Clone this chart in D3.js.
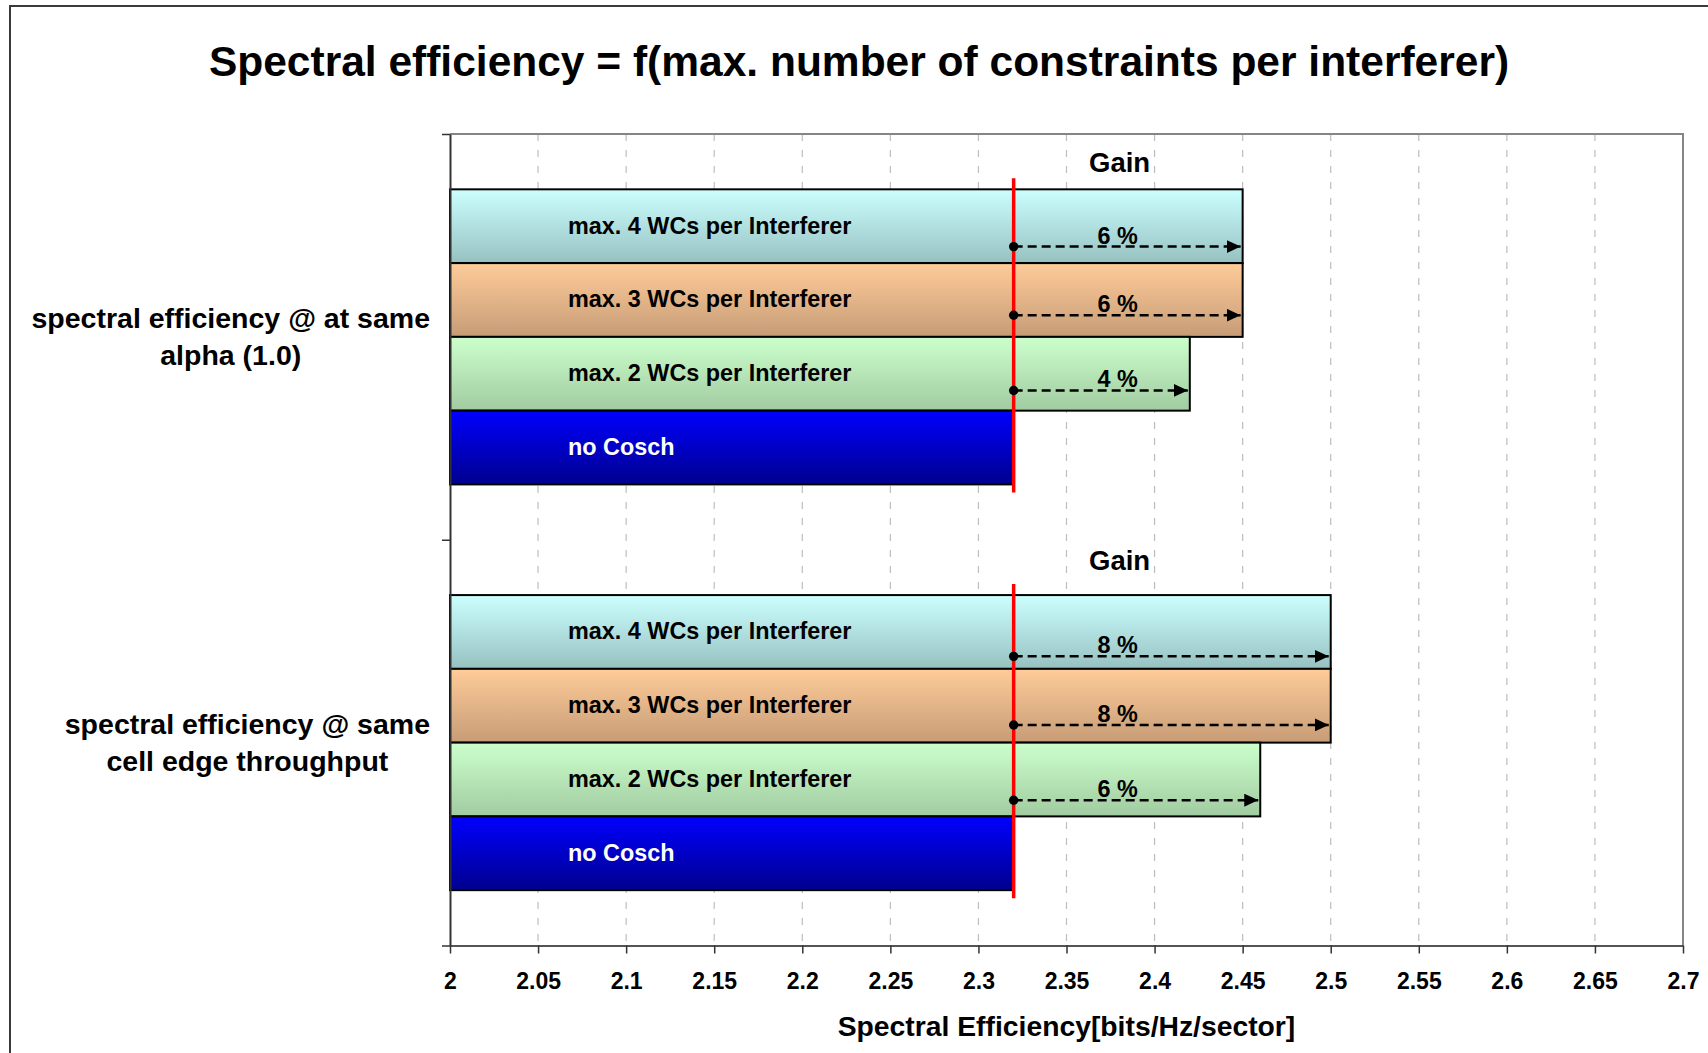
<!DOCTYPE html>
<html>
<head>
<meta charset="utf-8">
<script src="https://cdn.jsdelivr.net/npm/d3@7"></script>
<style>
  body { margin: 0; background: #fff; }
  svg { display: block; }
  text { font-family: "Liberation Sans", Arial, sans-serif; font-weight: bold; }
</style>
</head>
<body>
<svg id="chart" width="1708" height="1053"></svg>
<script>
// ---- data ----
const categories = ["spectral efficiency @ at same alpha (1.0)", "spectral efficiency @ same cell edge throughput"];
const categoryLines = [["spectral efficiency @ at same", "alpha (1.0)"], ["spectral efficiency @ same", "cell edge throughput"]];
const seriesNames = ["max. 4 WCs per Interferer", "max. 3 WCs per Interferer", "max. 2 WCs per Interferer", "no Cosch"];
const max4WCs = [2.45, 2.50];
const max3WCs = [2.45, 2.50];
const max2WCs = [2.42, 2.46];
const noCosch = [2.32, 2.32];
const xTickValues = [2, 2.05, 2.1, 2.15, 2.2, 2.25, 2.3, 2.35, 2.4, 2.45, 2.5, 2.55, 2.6, 2.65, 2.7];
const xTickLabels = ["2", "2.05", "2.1", "2.15", "2.2", "2.25", "2.3", "2.35", "2.4", "2.45", "2.5", "2.55", "2.6", "2.65", "2.7"];
const titleText = "Spectral efficiency = f(max. number of constraints per interferer)";
const xAxisTitle = "Spectral Efficiency[bits/Hz/sector]";
const gainTitle = "Gain";
const gainLabelValue = 2.379;   // x position (in axis units) of the gain percentages

const seriesValues = [max4WCs, max3WCs, max2WCs, noCosch];

// ---- styles ----
const gradients = [
  ["#CCFFFF", "#97C1C1"],
  ["#FFCC99", "#C69C77"],
  ["#CCFFCC", "#A1CBA1"],
  ["#0000FF", "#00008E"]
];
const labelColors = ["#000", "#000", "#000", "#fff"];

// ---- layout ----
const plot = { left: 450, right: 1683, top: 134, bottom: 945.5 };
const svg = d3.select("#chart");

const x = d3.scaleLinear().domain([2, 2.7]).range([plot.left, plot.right]);
const y0 = d3.scaleBand().domain(categories).range([plot.top, plot.bottom]);
const y1 = d3.scaleBand().domain(seriesNames).range([0, y0.bandwidth()])
  .paddingInner(0).paddingOuter(0.75);
const bh = y1.bandwidth();

// gradients
const defs = svg.append("defs");
gradients.forEach((g, i) => {
  const lg = defs.append("linearGradient").attr("id", "grad" + i)
    .attr("x1", 0).attr("y1", 0).attr("x2", 0).attr("y2", 1);
  lg.append("stop").attr("offset", "0%").attr("stop-color", g[0]);
  lg.append("stop").attr("offset", "100%").attr("stop-color", g[1]);
});
defs.append("marker").attr("id", "arrowhead")
  .attr("markerUnits", "userSpaceOnUse")
  .attr("viewBox", "0 0 14 13").attr("refX", 14).attr("refY", 6.5)
  .attr("markerWidth", 14).attr("markerHeight", 13).attr("orient", "auto")
  .append("path").attr("d", "M0,0 L14,6.5 L0,13 Z").attr("fill", "#000");

// background + frame
svg.append("rect").attr("width", 1708).attr("height", 1053).attr("fill", "#fff");
svg.append("rect").attr("x", 10).attr("y", 6).attr("width", 1730).attr("height", 1080)
  .attr("fill", "#fff").attr("stroke", "#3a3a3a").attr("stroke-width", 2);

// title
svg.append("text").attr("x", 859).attr("y", 76).attr("text-anchor", "middle")
  .attr("font-size", 42.5).text(titleText);

// vertical gridlines
svg.append("g").selectAll("line")
  .data(xTickValues.filter(d => d > 2 && d < 2.7))
  .join("line")
  .attr("x1", d => x(d)).attr("x2", d => x(d))
  .attr("y1", plot.top).attr("y2", plot.bottom)
  .attr("stroke", "#BEBEBE").attr("stroke-width", 1.2)
  .attr("stroke-dasharray", "7,9");

// plot frame (top and right)
svg.append("path")
  .attr("d", `M${plot.left},${plot.top}H${plot.right}V${plot.bottom}`)
  .attr("fill", "none").attr("stroke", "#858585").attr("stroke-width", 2);

// bars
const gBars = svg.append("g");
categories.forEach((c, ci) => {
  seriesNames.forEach((s, si) => {
    const v = seriesValues[si][ci];
    gBars.append("rect")
      .attr("x", x(2)).attr("y", y0(c) + y1(s))
      .attr("width", x(v) - x(2)).attr("height", bh)
      .attr("fill", `url(#grad${si})`)
      .attr("stroke", "#000").attr("stroke-width", 2);
  });
});

// bar labels
categories.forEach((c, ci) => {
  seriesNames.forEach((s, si) => {
    svg.append("text")
      .attr("x", plot.left + 118)
      .attr("y", y0(c) + y1(s) + bh / 2 + 7.5)
      .attr("font-size", 23.4).attr("fill", labelColors[si])
      .text(s);
  });
});

// reference line at the no-Cosch value
categories.forEach((c, ci) => {
  const top = y0(c) + y1(seriesNames[0]);
  const bottom = y0(c) + y1(seriesNames[3]) + bh;
  svg.append("line")
    .attr("x1", x(noCosch[ci])).attr("x2", x(noCosch[ci]))
    .attr("y1", top - 11).attr("y2", bottom + 8)
    .attr("stroke", "#FF0000").attr("stroke-width", 3.5);
});

// gain arrows and percentages
const arrowFrac = [0.79, 0.72, 0.74];
const arrowShift = [-1, 3];
const gainDy = [-17, -25];
categories.forEach((c, ci) => {
  const base = noCosch[ci];
  svg.append("text")
    .attr("x", x(gainLabelValue) + 2)
    .attr("y", y0(c) + y1(seriesNames[0]) + gainDy[ci])
    .attr("text-anchor", "middle").attr("font-size", 27.5)
    .text(gainTitle);
  seriesNames.slice(0, 3).forEach((s, si) => {
    const v = seriesValues[si][ci];
    const ay = y0(c) + y1(s) + bh * arrowFrac[si] + arrowShift[ci];
    svg.append("line")
      .attr("x1", x(base)).attr("x2", x(v) - 2)
      .attr("y1", ay).attr("y2", ay)
      .attr("stroke", "#000").attr("stroke-width", 2.5)
      .attr("stroke-dasharray", "9,5")
      .attr("marker-end", "url(#arrowhead)");
    svg.append("circle").attr("cx", x(base)).attr("cy", ay).attr("r", 4.7).attr("fill", "#000");
    const pct = Math.round((v / base - 1) * 100);
    svg.append("text")
      .attr("x", x(gainLabelValue)).attr("y", ay - 3)
      .attr("text-anchor", "middle").attr("font-size", 23.4)
      .text(pct + " %");
  });
});

// x axis
const xAxis = svg.append("g").attr("transform", `translate(0,${plot.bottom})`)
  .call(d3.axisBottom(x).tickValues(xTickValues)
    .tickFormat((d, i) => xTickLabels[i]).tickSize(8).tickSizeOuter(0));
xAxis.select(".domain").attr("stroke", "#555").attr("stroke-width", 2);
xAxis.selectAll(".tick line").attr("stroke", "#333").attr("stroke-width", 1.5);
xAxis.selectAll(".tick text")
  .attr("y", 43.5).attr("dy", null)
  .attr("font-size", 23).attr("font-family", null).attr("fill", "#000");

// category axis: ticks on band boundaries
const yTickScale = d3.scaleLinear().domain([0, categories.length]).range([plot.top, plot.bottom]);
const yAxis = svg.append("g").attr("transform", `translate(${plot.left},0)`)
  .call(d3.axisLeft(yTickScale).tickValues(d3.range(categories.length + 1))
    .tickFormat("").tickSize(8).tickSizeOuter(0));
yAxis.select(".domain").attr("stroke", "#333").attr("stroke-width", 2);
yAxis.selectAll(".tick line").attr("stroke", "#333").attr("stroke-width", 1.5);

// category labels: block right-aligned to the axis, lines centered in block
categories.forEach((c, ci) => {
  const g = svg.append("g");
  const cy = y0(c) + y0.bandwidth() / 2;
  const texts = categoryLines[ci].map((line, li) =>
    g.append("text").attr("y", cy - 8.5 + li * 37).attr("font-size", 28.5)
      .attr("text-anchor", "middle").text(line));
  const maxW = d3.max(texts, t => t.node().getComputedTextLength());
  texts.forEach(t => t.attr("x", 430 - maxW / 2));
});

// x axis title
svg.append("text").attr("x", (plot.left + plot.right) / 2).attr("y", 1036)
  .attr("text-anchor", "middle").attr("font-size", 28.3).text(xAxisTitle);
</script>
</body>
</html>
